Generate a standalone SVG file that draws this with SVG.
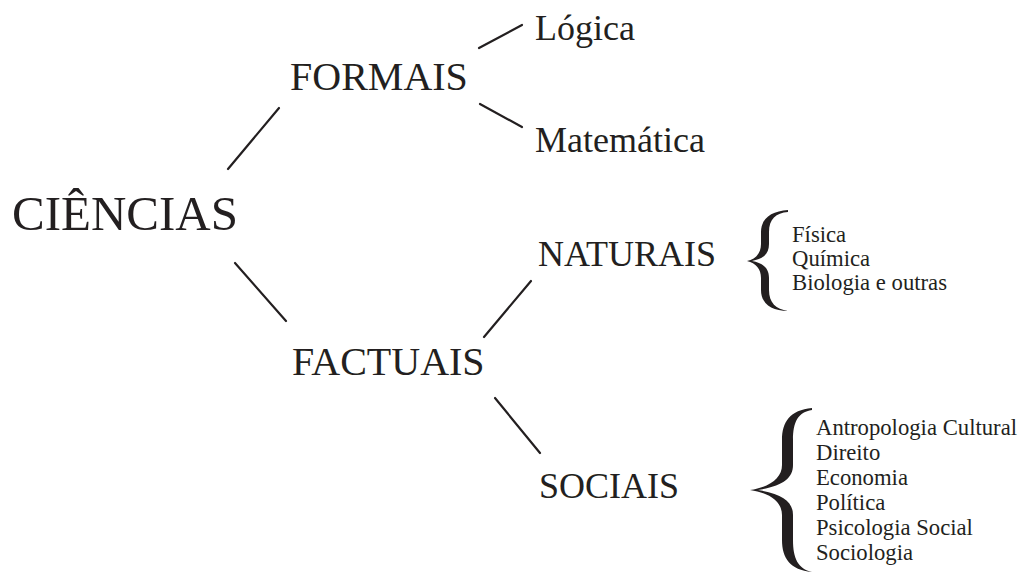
<svg xmlns="http://www.w3.org/2000/svg" width="1020" height="574" viewBox="0 0 1020 574">
<style>
text{font-family:"Liberation Serif","Times New Roman",serif;fill:#231f20}
.l{stroke:#231f20;stroke-width:2.2;stroke-linecap:round;fill:none}
.br{fill:#231f20}
.xl{font-size:49px}.lg{font-size:40px}.md{font-size:36px}.sm{font-size:22.7px}
</style>
<rect width="1020" height="574" fill="#fff"/>
<g id="connectors">
<line class="l" x1="228" y1="169" x2="279" y2="108"/>
<line class="l" x1="235" y1="263" x2="286" y2="321"/>
<line class="l" x1="479" y1="48" x2="522" y2="25"/>
<line class="l" x1="480" y1="104" x2="522" y2="127"/>
<line class="l" x1="484" y1="337" x2="531" y2="281"/>
<line class="l" x1="495" y1="398" x2="540" y2="453"/>
</g>
<g id="ciencias"><text class="xl" x="12" y="230">CIÊNCIAS</text></g>
<g id="formais"><text class="lg" x="290" y="90">FORMAIS</text></g>
<g id="logica"><text class="md" x="535" y="40">Lógica</text></g>
<g id="matematica"><text class="md" x="535" y="152">Matemática</text></g>
<g id="factuais"><text class="lg" x="292" y="375">FACTUAIS</text></g>
<g id="naturais"><text class="md" x="538" y="266">NATURAIS</text></g>
<g id="sociais"><text class="md" x="539" y="498">SOCIAIS</text></g>
<g id="naturais-lista">
<path class="br" d="M788,210 C772,211 761,218 761,232 L761,244 C761,253 756,259 747,261 C756,263 761,269 761,278 L761,290 C761,304 772,311 788,311 C776,309 769,303 769,290 L769,278 C769,268 763,263 752,261 C763,259 769,254 769,244 L769,232 C769,219 776,213 788,212 Z"/>
<text class="sm" x="792" y="242">Física</text>
<text class="sm" x="792" y="266">Química</text>
<text class="sm" x="792" y="290">Biologia e outras</text>
</g>
<g id="sociais-lista">
<path class="br" d="M812,408 C790,410 782,422 782,440 L782,465 C782,478 770,487 750,490 C770,493 782,502 782,515 L782,540 C782,558 790,570 812,572 C798,569 793,558 793,540 L793,515 C793,502 783,494 758,490 C783,486 793,478 793,465 L793,440 C793,422 798,412 812,410 Z"/>
<text class="sm" x="816" y="435">Antropologia Cultural</text>
<text class="sm" x="816" y="460">Direito</text>
<text class="sm" x="816" y="485">Economia</text>
<text class="sm" x="816" y="510">Política</text>
<text class="sm" x="816" y="535">Psicologia Social</text>
<text class="sm" x="816" y="560">Sociologia</text>
</g>
</svg>
